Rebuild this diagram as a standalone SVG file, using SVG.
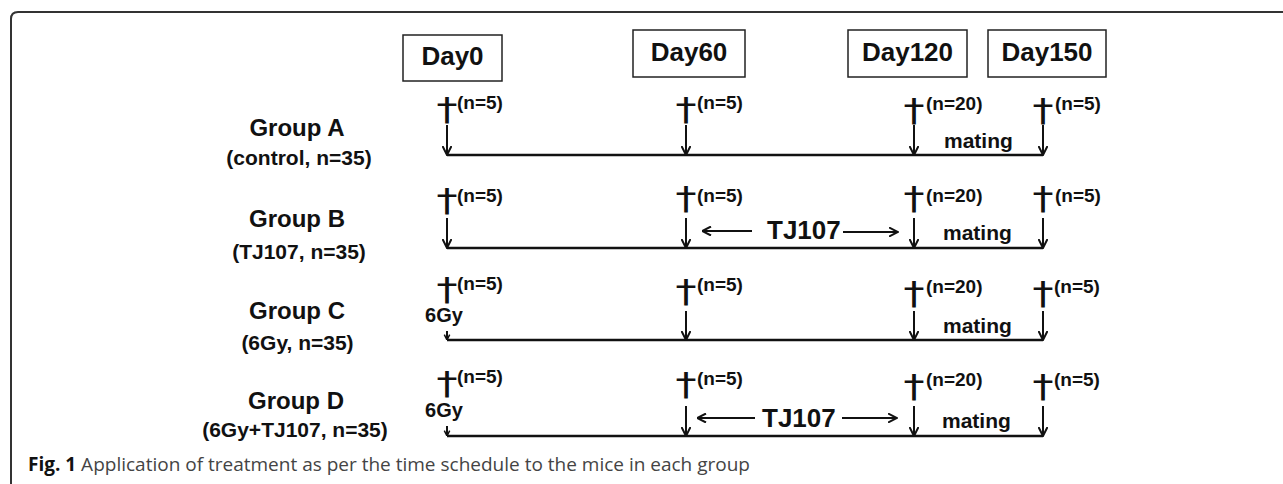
<svg xmlns="http://www.w3.org/2000/svg" width="1283" height="484" viewBox="0 0 1283 484">
<style>
.t{font-family:"Liberation Sans",Arial,sans-serif;font-weight:bold;fill:#111}
.day{font-size:26px;text-anchor:middle}
.grp{font-size:24px;text-anchor:middle}
.sub{font-size:21px;text-anchor:middle}
.n{font-size:19px}
.dag{font-family:"DejaVu Sans",sans-serif;font-weight:normal;font-size:28px;text-anchor:middle;fill:#111}
.mat{font-size:21px}
.tj{font-size:26px}
.gy{font-size:20px;text-anchor:middle}
.box{fill:#fff;stroke:#222;stroke-width:1.5}
.ln{stroke:#111;stroke-width:2.5;fill:none}
.ar{stroke:#111;stroke-width:2;fill:none;marker-end:url(#ah)}
.ars{stroke:#111;stroke-width:2;fill:none;marker-end:url(#ahs)}
.cap{font-family:"Open Sans","Liberation Sans",sans-serif;font-size:19px;fill:#444}
</style>
<defs>
<marker id="ah" viewBox="0 0 10 10" refX="9.5" refY="5" markerWidth="10" markerHeight="10" markerUnits="userSpaceOnUse" orient="auto">
<path d="M0.5,0.5 L9.5,5 L0.5,9.5" fill="none" stroke="#111" stroke-width="2"/>
</marker>
<marker id="ahs" viewBox="0 0 10 10" refX="9.5" refY="5" markerWidth="6" markerHeight="8" markerUnits="userSpaceOnUse" orient="auto">
<path d="M0.5,0.5 L9.5,5 L0.5,9.5" fill="none" stroke="#111" stroke-width="2.5"/>
</marker>
</defs>
<rect width="1283" height="484" fill="#fff"/>
<path d="M11,484 V19 Q11,12 18,12 H1283" fill="none" stroke="#333" stroke-width="2"/>

<g id="day0"><rect class="box" x="403" y="35" width="99" height="46"/><text class="t day" x="452.5" y="65">Day0</text></g>
<g id="day60"><rect class="box" x="633" y="30" width="112" height="47"/><text class="t day" x="689" y="61">Day60</text></g>
<g id="day120"><rect class="box" x="848" y="30" width="119" height="47"/><text class="t day" x="907.5" y="61">Day120</text></g>
<g id="day150"><rect class="box" x="988" y="30" width="118" height="47"/><text class="t day" x="1047" y="61">Day150</text></g>

<g id="groupA"><text class="t grp" x="297" y="136">Group A</text><text class="t sub" x="299" y="165">(control, n=35)</text></g>
<g id="groupB"><text class="t grp" x="297" y="227">Group B</text><text class="t sub" x="299" y="259">(TJ107, n=35)</text></g>
<g id="groupC"><text class="t grp" x="297" y="319">Group C</text><text class="t sub" x="297.5" y="350">(6Gy, n=35)</text></g>
<g id="groupD"><text class="t grp" x="296" y="409">Group D</text><text class="t sub" x="295" y="437">(6Gy+TJ107, n=35)</text></g>

<g id="rowA-labels">
<text class="dag" transform="translate(447,120) scale(1.5,1.15)">†</text><text class="t n" x="457" y="109">(n=5)</text>
<text class="dag" transform="translate(686,120) scale(1.5,1.15)">†</text><text class="t n" x="697" y="109">(n=5)</text>
<text class="dag" transform="translate(914,121) scale(1.5,1.15)">†</text><text class="t n" x="926" y="110">(n=20)</text>
<text class="dag" transform="translate(1043,121) scale(1.5,1.15)">†</text><text class="t n" x="1055" y="110">(n=5)</text>
<text class="t mat" x="944" y="148">mating</text>
</g>
<g id="rowB-labels">
<text class="dag" transform="translate(447,211) scale(1.5,1.15)">†</text><text class="t n" x="457" y="202">(n=5)</text>
<text class="dag" transform="translate(686,209) scale(1.5,1.15)">†</text><text class="t n" x="697" y="202">(n=5)</text>
<text class="dag" transform="translate(914,209) scale(1.5,1.15)">†</text><text class="t n" x="926" y="202">(n=20)</text>
<text class="dag" transform="translate(1043,209) scale(1.5,1.15)">†</text><text class="t n" x="1055" y="202">(n=5)</text>
<text class="t tj" x="767" y="239">TJ107</text>
<text class="t mat" x="943" y="240">mating</text>
</g>
<g id="rowC-labels">
<text class="dag" transform="translate(447,300) scale(1.5,1.15)">†</text><text class="t n" x="457" y="290">(n=5)</text>
<text class="dag" transform="translate(686,302) scale(1.5,1.15)">†</text><text class="t n" x="697" y="291">(n=5)</text>
<text class="dag" transform="translate(914,304) scale(1.5,1.15)">†</text><text class="t n" x="926" y="293">(n=20)</text>
<text class="dag" transform="translate(1043,304) scale(1.5,1.15)">†</text><text class="t n" x="1054" y="293">(n=5)</text>
<text class="t gy" x="444" y="322">6Gy</text>
<text class="t mat" x="943" y="333">mating</text>
</g>
<g id="rowD-labels">
<text class="dag" transform="translate(447,394) scale(1.5,1.15)">†</text><text class="t n" x="457" y="383">(n=5)</text>
<text class="dag" transform="translate(686,395) scale(1.5,1.15)">†</text><text class="t n" x="697" y="385">(n=5)</text>
<text class="dag" transform="translate(914,397) scale(1.5,1.15)">†</text><text class="t n" x="926" y="386">(n=20)</text>
<text class="dag" transform="translate(1043,397) scale(1.5,1.15)">†</text><text class="t n" x="1054" y="386">(n=5)</text>
<text class="t gy" x="444" y="417">6Gy</text>
<text class="t tj" x="762" y="427">TJ107</text>
<text class="t mat" x="942" y="428">mating</text>
</g>

<g id="connectors">
<line class="ln" x1="447" y1="155" x2="1043" y2="155"/>
<line class="ln" x1="447" y1="248" x2="1043" y2="248"/>
<line class="ln" x1="447" y1="340" x2="1043" y2="340"/>
<line class="ln" x1="447" y1="436" x2="1043" y2="436"/>
<line class="ar" x1="447" y1="125" x2="447" y2="155"/>
<line class="ar" x1="686" y1="125" x2="686" y2="155"/>
<line class="ar" x1="914" y1="125" x2="914" y2="155"/>
<line class="ar" x1="1043" y1="125" x2="1043" y2="155"/>
<line class="ar" x1="447" y1="218" x2="447" y2="248"/>
<line class="ar" x1="686" y1="218" x2="686" y2="248"/>
<line class="ar" x1="914" y1="218" x2="914" y2="248"/>
<line class="ar" x1="1043" y1="218" x2="1043" y2="248"/>
<line class="ars" x1="447" y1="331" x2="447" y2="340"/>
<line class="ar" x1="686" y1="311" x2="686" y2="340"/>
<line class="ar" x1="914" y1="311" x2="914" y2="340"/>
<line class="ar" x1="1043" y1="311" x2="1043" y2="340"/>
<line class="ars" x1="447" y1="426" x2="447" y2="436"/>
<line class="ar" x1="686" y1="406" x2="686" y2="436"/>
<line class="ar" x1="914" y1="406" x2="914" y2="436"/>
<line class="ar" x1="1043" y1="406" x2="1043" y2="436"/>
<line class="ar" x1="752" y1="231" x2="702" y2="231"/>
<line class="ar" x1="843" y1="232" x2="898" y2="232"/>
<line class="ar" x1="755" y1="418" x2="697" y2="418"/>
<line class="ar" x1="842" y1="418" x2="897" y2="418"/>
</g>

<text class="cap" x="28" y="471"><tspan font-weight="bold" fill="#111">Fig. 1</tspan> Application of treatment as per the time schedule to the mice in each group</text>
</svg>
